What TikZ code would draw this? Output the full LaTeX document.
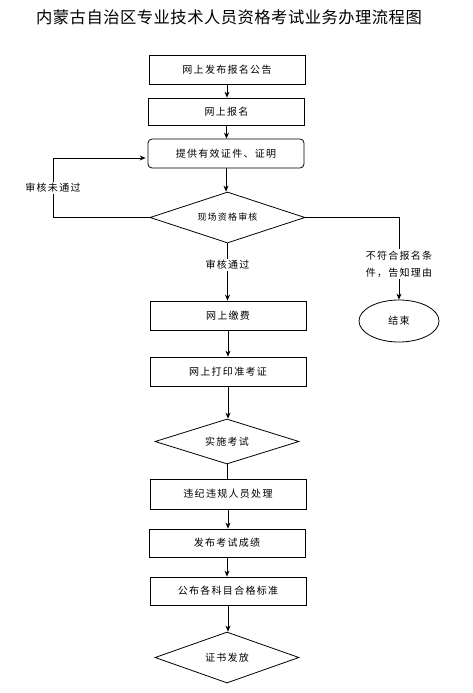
\documentclass[tikz,border=0pt]{standalone}
\usepackage{fontspec}
\setmainfont{Noto Sans CJK SC}[LetterSpace=13]
\newfontfamily\titlefont{Noto Sans CJK SC}[LetterSpace=3]
\usetikzlibrary{shapes.geometric,arrows.meta}
\begin{document}
\begin{tikzpicture}[x=1pt,y=1pt,
  line width=0.8pt,
  every node/.style={font=\fontsize{10}{12}\selectfont},
  boxnode/.style={draw,rectangle,minimum width=156pt,minimum height=29pt,inner sep=0pt},
  roundbox/.style={boxnode,rounded corners=4pt},
  decide/.style={draw,diamond,aspect=3,inner sep=0pt},
  endnode/.style={draw,ellipse,minimum width=80pt,minimum height=42pt,inner sep=0pt},
  lbl/.style={fill=white,inner sep=1pt,align=center},
  arr/.style={-{Stealth[length=6pt,width=5pt]}},
  ln/.style={-}]
\useasboundingbox (0,0) rectangle (472,-693);
\node[font=\titlefont\fontsize{16.3}{18}\selectfont] (title) at (229,-17) {内蒙古自治区专业技术人员资格考试业务办理流程图};
\node[boxnode] (b1) at (227,-69.5) {网上发布报名公告};
\node[boxnode,minimum height=27pt] (b2) at (226.5,-111.5) {网上报名};
\node[roundbox] (b3) at (226,-153.5) {提供有效证件、证明};
\node[decide,minimum width=155pt,minimum height=51pt,font=\fontsize{9}{11}\selectfont] (d1) at (227.5,-217.5) {现场资格审核};
\node[lbl] (l1) at (53,-188) {审核未通过};
\coordinate (c1) at (53,-217.5);
\coordinate (c2) at (53,-158);
\node[lbl,font=\fontsize{10}{17}\selectfont] (l2) at (399,-264) {不符合报名条\\件，告知理由};
\coordinate (c3) at (399,-217.5);
\node[endnode] (e1) at (399,-321) {结束};
\node[lbl] (l3) at (227.5,-265) {审核通过};
\node[boxnode] (b4) at (228,-315.5) {网上缴费};
\node[boxnode] (b5) at (228,-371.5) {网上打印准考证};
\node[decide,minimum width=144pt,minimum height=45pt] (d2) at (227,-441.5) {实施考试};
\node[boxnode,minimum height=30pt] (b6) at (228,-494) {违纪违规人员处理};
\node[boxnode,minimum height=28pt] (b7) at (227,-543) {发布考试成绩};
\node[boxnode,minimum height=28pt] (b8) at (228,-591) {公布各科目合格标准};
\node[decide,minimum width=144pt,minimum height=51pt] (d3) at (227,-657.5) {证书发放};

\draw[arr] (b1.south) -- (b1.south |- b2.north);
\draw[arr] (b2.south) -- (b2.south |- b3.north);
\draw[arr] (b3.south) -- (b3.south |- d1.north);
\draw[ln] (d1.west) -- (c1) -- (l1.south);
\draw[arr] (l1.north) -- (c2) -- ([xshift=-2pt,yshift=-4.5pt]b3.west);
\draw[ln] (d1.east) -- (c3) -- (l2.north);
\draw[arr] (l2.south) -- (e1.north);
\draw[ln] (d1.south) -- (l3.north);
\draw[arr] (l3.south) -- (l3.south |- b4.north);
\draw[arr] (b4.south) -- (b4.south |- b5.north);
\draw[arr] (b5.south) -- (b5.south |- d2.north);
\draw[ln] (d2.south) -- (d2.south |- b6.north);
\draw[arr] (b6.south) -- (b6.south |- b7.north);
\draw[arr] (b7.south) -- (b7.south |- b8.north);
\draw[arr] (b8.south) -- (b8.south |- d3.north);
\end{tikzpicture}
\end{document}
